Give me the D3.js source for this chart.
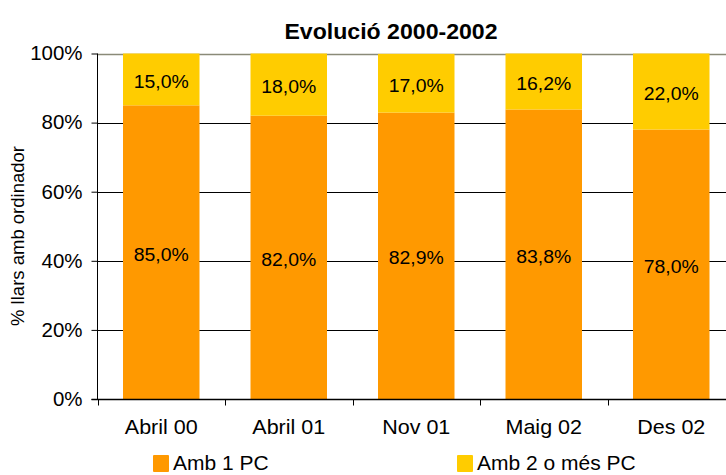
<!DOCTYPE html>
<html>
<head>
<meta charset="utf-8">
<script src="https://cdn.jsdelivr.net/npm/d3@7"></script>
<style>
    body { margin: 0; background: #fff; }
    svg { display: block; font-family: "Liberation Sans", Arial, sans-serif; }
</style>
</head>
<body>
<svg id="barChart" width="726" height="475"></svg>
<script>
// data
var periods = ["Abril 00", "Abril 01", "Nov 01", "Maig 02", "Des 02"];
var onePC = [85.0, 82.0, 82.9, 83.8, 78.0];
var twoPC = [15.0, 18.0, 17.0, 16.2, 22.0];
var seriesNames = ["Amb 1 PC", "Amb 2 o més PC"];
var yTicks = [0, 20, 40, 60, 80, 100];

var colors = ["#ff9900", "#ffcc00"];
var stretch = 1.05; // text in the reference is slightly wide

var barChart = d3.select("svg#barChart"),
    plot = { left: 97.5, right: 735, top: 53.5, bottom: 399 };

var x = d3.scaleBand()
    .domain(periods)
    .range([plot.left, plot.right])
    .paddingInner(0.4)
    .paddingOuter(0.2);

var y = d3.scaleLinear()
    .domain([0, 100])
    .range([plot.bottom, plot.top]);

// helper for horizontally stretched text
function label(sel, tx, ty, txt, size, anchor) {
    return sel.append("text")
        .attr("transform", "translate(" + tx + "," + ty + ") scale(" + stretch + ",1)")
        .attr("text-anchor", anchor || "middle")
        .style("font-size", size + "px")
        .attr("fill", "#000")
        .text(txt);
}

// gridlines
var grid = barChart.append("g");
grid.selectAll("line")
    .data(yTicks.filter(function (d) { return d > 0; }))
    .enter()
    .append("line")
    .attr("x1", plot.left)
    .attr("x2", 726)
    .attr("y1", function (d) { return Math.round(y(d)) + 0.5; })
    .attr("y2", function (d) { return Math.round(y(d)) + 0.5; })
    .attr("stroke", function (d) { return d === 100 ? "#8a8a78" : "#000"; })
    .attr("stroke-width", function (d) { return d === 100 ? 1.5 : 1; });

// stacked bars
var rows = periods.map(function (p, i) { return { period: p, a: onePC[i], b: twoPC[i] }; });
var stacked = d3.stack().keys(["a", "b"])(rows);

var layers = barChart.append("g").selectAll("g")
    .data(stacked)
    .enter()
    .append("g")
    .attr("fill", function (d, i) { return colors[i]; });

layers.selectAll("rect")
    .data(function (d) { return d; })
    .enter()
    .append("rect")
    .attr("x", function (d) { return x(d.data.period); })
    .attr("y", function (d) { return y(Math.min(d[1], 100)); })
    .attr("width", x.bandwidth())
    .attr("height", function (d) { return y(d[0]) - y(Math.min(d[1], 100)); });

// value labels
stacked.forEach(function (layer) {
    layer.forEach(function (d) {
        var v = d[1] - d[0];
        var cy = (y(d[0]) + y(Math.min(d[1], 100))) / 2;
        label(barChart, x(d.data.period) + x.bandwidth() / 2, cy + 2, d3.format(".1f")(v).replace(".", ",") + "%", 18.5)
            .attr("dy", "0.35em");
    });
});

// y axis
var yAxis = barChart.append("g")
    .attr("transform", "translate(" + plot.left + ",0)")
    .call(d3.axisLeft(y).tickValues(yTicks).tickSize(6).tickFormat(""));
yAxis.select("path.domain").attr("stroke", "#000").attr("d", "M0," + plot.top + "V" + plot.bottom);
yAxis.selectAll("line").attr("stroke", "#000");

yTicks.forEach(function (t) {
    label(barChart, 82.5, y(t), t + "%", 19.5, "end").attr("dy", "0.35em");
});

// x axis
var xAxis = barChart.append("g")
    .attr("transform", "translate(0," + (plot.bottom + 0.5) + ")");
xAxis.append("line")
    .attr("x1", plot.left - 6).attr("x2", 726)
    .attr("stroke", "#000").attr("stroke-width", 1.5);
xAxis.selectAll(".tk")
    .data(periods)
    .enter()
    .append("line")
    .attr("class", "tk")
    .attr("x1", function (d) { return Math.round(x(d) - x.step() * 0.2) + 0.5; })
    .attr("x2", function (d) { return Math.round(x(d) - x.step() * 0.2) + 0.5; })
    .attr("y1", 0).attr("y2", 6)
    .attr("stroke", "#000");

periods.forEach(function (p) {
    label(barChart, x(p) + x.bandwidth() / 2, 434, p, 20.5);
});

// axis title
barChart.append("text")
    .attr("transform", "translate(24,236) rotate(-90)")
    .attr("text-anchor", "middle")
    .style("font-size", "18.5px")
    .text("% llars amb ordinador");

// title
label(barChart, 391, 39, "Evolució 2000-2002", 22).style("font-weight", "bold");

// legend
var legendX = [153, 457];
seriesNames.forEach(function (name, i) {
    barChart.append("rect")
        .attr("x", legendX[i]).attr("y", 455)
        .attr("width", 16).attr("height", 17)
        .attr("rx", 1)
        .attr("fill", colors[i]);
    label(barChart, legendX[i] + 20, 470, name, 20, "start");
});
</script>
</body>
</html>
